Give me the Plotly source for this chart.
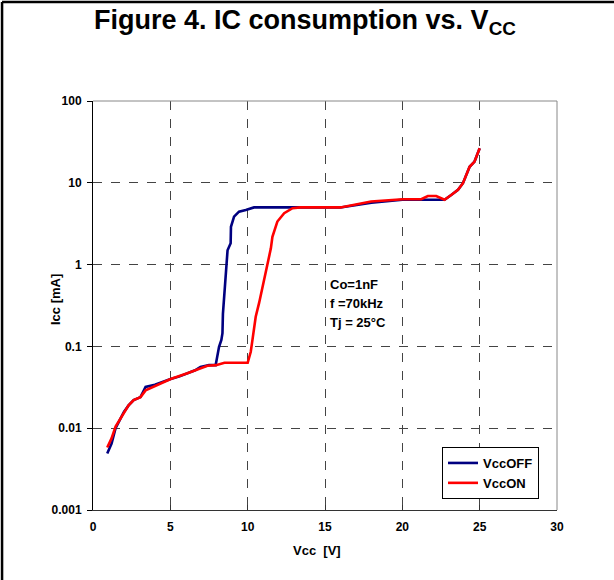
import plotly.graph_objects as go

# VccOFF curve
vcc_off = [0.92, 1.2, 1.46, 1.75, 2.0, 2.3, 2.63, 3.07, 3.3, 3.4, 4.0, 4.48, 5.02, 5.6, 6.1,
           6.6, 6.95, 7.5, 7.93, 8.05, 8.15, 8.3, 8.37, 8.4, 8.58, 8.7, 8.9, 8.92, 9.12, 9.44,
           9.88, 10.41, 12.0, 14.0, 16.0, 18.0, 20.0, 21.0, 22.0, 22.73, 23.16, 23.6, 23.92,
           24.15, 24.35, 24.67, 25.0]
icc_off = [0.0049, 0.0065, 0.010, 0.013, 0.0158, 0.019, 0.022, 0.024, 0.029, 0.032, 0.034,
           0.037, 0.040, 0.043, 0.047, 0.051, 0.056, 0.059, 0.059, 0.079, 0.099, 0.12, 0.145,
           0.25, 0.86, 1.5, 1.82, 2.9, 3.86, 4.44, 4.65, 5.0, 5.0, 5.0, 5.0, 5.7, 6.2, 6.2,
           6.2, 6.2, 7.1, 8.2, 9.9, 12.4, 15.7, 18.2, 26.4]

# VccON curve
vcc_on = [0.92, 1.2, 1.46, 1.75, 2.0, 2.3, 2.63, 3.07, 3.4, 4.48, 5.02, 6.1, 6.95, 7.4, 7.95,
          8.5, 10.0, 10.2, 10.31, 10.52, 10.74, 10.96, 11.18, 11.29, 11.5, 11.6, 11.92, 12.36,
          12.9, 13.4, 16.0, 17.98, 20.03, 21.22, 21.65, 22.19, 22.73, 23.16, 23.6, 23.92,
          24.15, 24.35, 24.67, 25.0]
icc_on = [0.0058, 0.0075, 0.0105, 0.013, 0.0158, 0.019, 0.022, 0.024, 0.029, 0.036, 0.040,
          0.047, 0.054, 0.058, 0.059, 0.063, 0.063, 0.086, 0.12, 0.23, 0.34, 0.54, 0.86, 1.09,
          1.58, 2.19, 3.36, 4.25, 4.89, 5.0, 5.0, 5.9, 6.3, 6.3, 6.9, 6.9, 6.2, 7.1, 8.2, 9.9,
          12.4, 15.7, 18.2, 26.4]

x_ticks = [0, 5, 10, 15, 20, 25, 30]
y_ticks = [0.001, 0.01, 0.1, 1, 10, 100]
y_tick_text = ["0.001", "0.01", "0.1", "1", "10", "100"]

FONT = "Liberation Sans, Arial, sans-serif"

fig = go.Figure()
fig.add_trace(go.Scatter(x=vcc_off, y=icc_off, mode="lines", name="VccOFF",
                         line=dict(color="#000080", width=2.6)))
fig.add_trace(go.Scatter(x=vcc_on, y=icc_on, mode="lines", name="VccON",
                         line=dict(color="#FF0000", width=2.6)))

fig.update_layout(
    width=614, height=580,
    margin=dict(l=93, r=57, t=101, b=70),
    paper_bgcolor="white", plot_bgcolor="white",
    font=dict(family=FONT, size=12, color="black"),
    title=dict(text="<b>Figure 4. IC consumption vs. V<sub>CC</sub></b>",
               x=(305 - 93) / 464, xref="paper", xanchor="center", y=1 - 20 / 580,
               yanchor="middle",
               font=dict(family=FONT, size=27, color="black")),
    showlegend=True,
    legend=dict(x=(442 - 93) / 464, y=(510 - 447) / 409, xanchor="left", yanchor="top",
                bgcolor="white", bordercolor="black", borderwidth=1,
                font=dict(family=FONT, size=13, color="black", weight="bold"),
                tracegroupgap=0, itemwidth=30),
)

fig.update_xaxes(range=[0, 30], tickvals=x_ticks, ticktext=[f"<b>{v}</b>" for v in x_ticks],
                 showgrid=True, gridcolor="#444444", griddash="dash", gridwidth=1,
                 showline=True, linecolor="#333333", linewidth=1,
                 ticks="inside", ticklen=5, tickcolor="#333333",
                 ticklabelstandoff=6, zeroline=False,
                 tickfont=dict(family=FONT, size=12))
fig.update_yaxes(type="log", range=[-3, 2], tickvals=y_ticks,
                 ticktext=[f"<b>{t}</b>" for t in y_tick_text],
                 showgrid=True, gridcolor="#444444", griddash="dash", gridwidth=1,
                 showline=True, linecolor="black", linewidth=1,
                 ticks="outside", ticklen=5, tickcolor="black",
                 ticklabelstandoff=3, zeroline=False,
                 tickfont=dict(family=FONT, size=12))

# grey frame on top and right of plot area
fig.add_shape(type="line", xref="paper", yref="paper", x0=0, x1=1, y0=1, y1=1,
              line=dict(color="#888888", width=1))
fig.add_shape(type="line", xref="paper", yref="paper", x0=1, x1=1, y0=0, y1=1,
              line=dict(color="#888888", width=1))
# outer figure frame (top and left)
fig.add_shape(type="line", xref="paper", yref="paper", x0=-0.196, x1=1.2, y0=1.242, y1=1.242,
              line=dict(color="black", width=2.5))
fig.add_shape(type="line", xref="paper", yref="paper", x0=-0.196, x1=-0.196, y0=-0.2, y1=1.242,
              line=dict(color="black", width=2.5))

# axis titles
fig.add_annotation(text="<b>Vcc  [V]</b>", xref="paper", yref="paper",
                   x=(317 - 93) / 464, y=(510 - 550) / 409, showarrow=False,
                   xanchor="center", yanchor="middle", font=dict(family=FONT, size=13))
fig.add_annotation(text="<b>Icc [mA]</b>", xref="paper", yref="paper",
                   x=(55 - 93) / 464, y=(510 - 300) / 409, showarrow=False, textangle=-90,
                   xanchor="center", yanchor="middle", font=dict(family=FONT, size=13))

# conditions text
cond_lines = ["Co=1nF", "f =70kHz", "Tj = 25°C"]
cond_y = [284, 303, 322]
for t, py in zip(cond_lines, cond_y):
    fig.add_annotation(text=f"<b>{t}</b>", xref="paper", yref="paper",
                       x=(328 - 93) / 464, y=(510 - py) / 409, showarrow=False,
                       xanchor="left", yanchor="middle", font=dict(family=FONT, size=13))

fig.write_html("out.html", config={"displayModeBar": False},
               post_script="document.body.style.margin='0';")
